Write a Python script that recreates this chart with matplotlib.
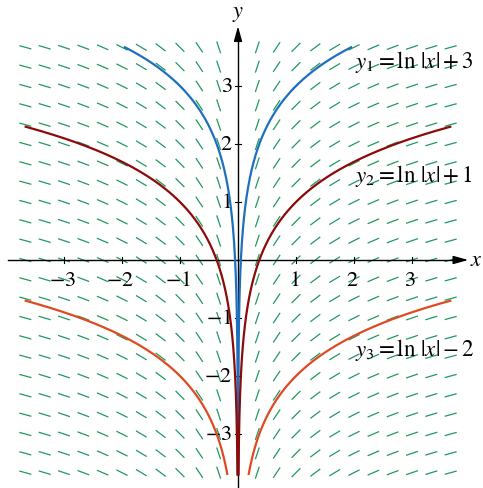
import numpy as np
import matplotlib
matplotlib.use("Agg")
import matplotlib.pyplot as plt
from matplotlib.collections import LineCollection

plt.rcParams['mathtext.fontset'] = 'stix'
plt.rcParams['font.family'] = ['STIXGeneral', 'DejaVu Serif']

# Slope field dy/dx = 1/x sampled on a grid of thirds
grid_k = np.arange(-11, 12)
field_x = [k / 3 for k in grid_k if k != 0]
field_y = [k / 3 for k in grid_k]

# Particular solutions y = ln|x| + C
curve_labels = [r"$y_1 = \ln\,|x| + 3$", r"$y_2 = \ln\,|x| + 1$", r"$y_3 = \ln\,|x| - 2$"]
curve_C = [3, 1, -2]
curve_xmax = [1.95, 3.66, 3.66]
curve_colors = ['#1f6fbf', '#8b0a0a', '#e04a22']

tick_values = [-3, -2, -1, 1, 2, 3]

W, H = 483, 489
fig = plt.figure(figsize=(W / 100, H / 100), dpi=100)
ax = fig.add_axes([0, 0, 1, 1])
ax.set_xlim(-4.103, 4.224)
ax.set_ylim(-3.931, 4.5)
ax.set_aspect('equal')
ax.axis('off')

# slope segments with fixed length
seg_len = 0.215
segs = []
for x in field_x:
    m = 1.0 / x
    dx = seg_len / 2 / np.sqrt(1 + m * m)
    dy = m * dx
    for y in field_y:
        segs.append([(x - dx, y - dy), (x + dx, y + dy)])
ax.add_collection(LineCollection(segs, colors='#1f9a5c', linewidths=0.9, zorder=1))

# axes with arrows
ax.plot([-3.97, 3.8], [0, 0], color='black', lw=1.0, zorder=2)
ax.plot([0, 0], [-3.931, 3.9], color='black', lw=1.0, zorder=2)
ax.annotate('', xy=(3.97, 0), xytext=(3.75, 0),
            arrowprops=dict(arrowstyle='-|>,head_length=0.9,head_width=0.25',
                            color='black', lw=1.0, shrinkA=0, shrinkB=0), zorder=3)
ax.annotate('', xy=(0, 4.03), xytext=(0, 3.8),
            arrowprops=dict(arrowstyle='-|>,head_length=0.9,head_width=0.25',
                            color='black', lw=1.0, shrinkA=0, shrinkB=0), zorder=3)
ax.text(4.11, 0.0, r"$x$", fontsize=16, ha='center', va='center')
ax.text(0.0, 4.25, r"$y$", fontsize=16, ha='center', va='center')

# ticks and tick labels
t = 0.05
for v in tick_values:
    ax.plot([v, v], [-t, t], color='black', lw=0.8, zorder=2)
    ax.plot([-t, t], [v, v], color='black', lw=0.8, zorder=2)
    ax.text(v - 0.03, -0.34, f"${v}$", fontsize=16, ha='center', va='center')
    ax.text(-0.1, v, f"${v}$", fontsize=16, ha='right', va='center')

# solution curves
for C, xm, col, lab in zip(curve_C, curve_xmax, curve_colors, curve_labels):
    xs = np.geomspace(1e-4, xm, 800)
    ys = np.log(xs) + C
    keep = ys >= -3.7
    for sgn in (-1, 1):
        ax.plot(sgn * xs[keep], ys[keep], color=col, lw=1.6, zorder=4)

ax.text(2.01, 3.43, curve_labels[0], fontsize=16.5, ha='left', va='center')
ax.text(2.01, 1.47, curve_labels[1], fontsize=16.5, ha='left', va='center')
ax.text(2.01, -1.53, curve_labels[2], fontsize=16.5, ha='left', va='center')

fig.savefig('out.png', dpi=100)
